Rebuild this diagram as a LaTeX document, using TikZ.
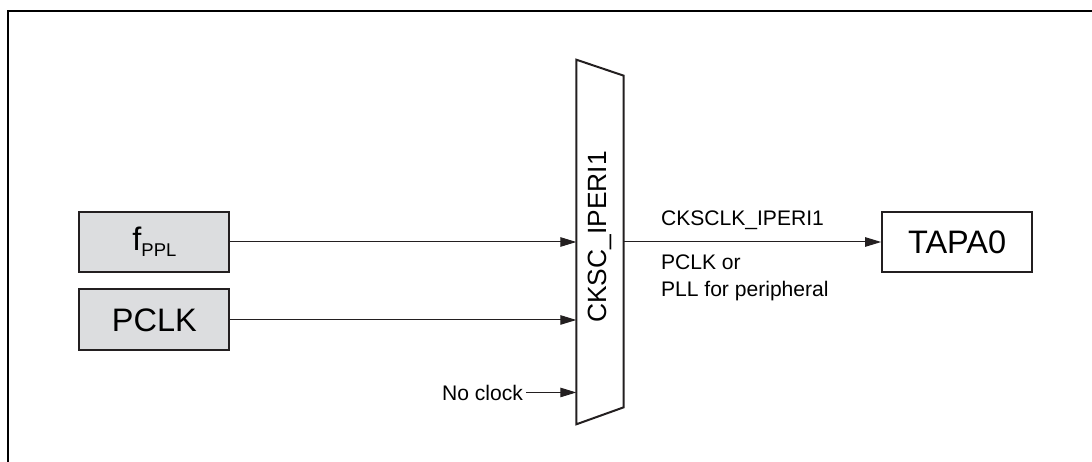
\documentclass[tikz,border=0pt]{standalone}
\usepackage{fontspec}
\setmainfont{Liberation Sans}
\usetikzlibrary{arrows.meta,positioning}
\definecolor{boxgray}{RGB}{220,221,223}
\definecolor{inkdark}{RGB}{35,31,32}
\begin{document}
\begin{tikzpicture}[
    x=0.02cm, y=-0.02cm,
    node distance=0.3cm,
    block/.style={draw=inkdark, line width=0.04cm, minimum width=3cm, minimum height=1.22cm, inner sep=0pt, align=center, font=\fontsize{18.5}{22}\selectfont},
    muxbox/.style={minimum width=0.934cm, minimum height=7.28cm, inner sep=0pt},
    lbl/.style={inner sep=0pt, align=left, font=\fontsize{12}{15.2}\selectfont},
    link/.style={-{Triangle[length=0.32cm, width=0.19cm]}, line width=0.02cm, draw=inkdark}
]
\useasboundingbox (0,0) rectangle (1092,462);
\draw[line width=0.04cm] (1092,11) -- (8,11) -- (8,462);
\node[muxbox] (mux) at (600,242) {};
\draw[line width=0.04cm, draw=inkdark] (mux.north west) -- ([yshift=-0.32cm]mux.north east) -- ([yshift=0.34cm]mux.south east) -- (mux.south west) -- cycle;
\node[rotate=90, inner sep=0pt, font=\fontsize{15}{18}\selectfont] (muxname) at ([yshift=0.1cm]mux.center) {CKSC\_IPERI1};
\node[block, fill=boxgray, left=6.92cm of mux] (fppl) {f\raisebox{-3.5pt}{\fontsize{10.5}{12}\selectfont PPL}};
\node[block, fill=boxgray, below=of fppl] (pclk) {PCLK};
\node[block, fill=white, right=5.15cm of mux] (tapa) {TAPA0};
\node[lbl, anchor=west] (selout) at ([shift={(0.74cm,0.44cm)}]mux.east) {CKSCLK\_IPERI1};
\node[lbl, anchor=west] (selsrc) at ([shift={(0.74cm,-0.72cm)}]mux.east) {PCLK or\\PLL for peripheral};
\coordinate (nclkin) at ([yshift=-3.01cm]mux.west);
\node[lbl, left=1.06cm of nclkin] (noclk) {No clock};
\draw[link] (fppl) -- (fppl -| mux.west);
\draw[link] (pclk) -- (pclk -| mux.west);
\draw[link, shorten <=0.06cm] (noclk) -- (nclkin);
\draw[link] (mux.east) -- (tapa);
\end{tikzpicture}
\end{document}
